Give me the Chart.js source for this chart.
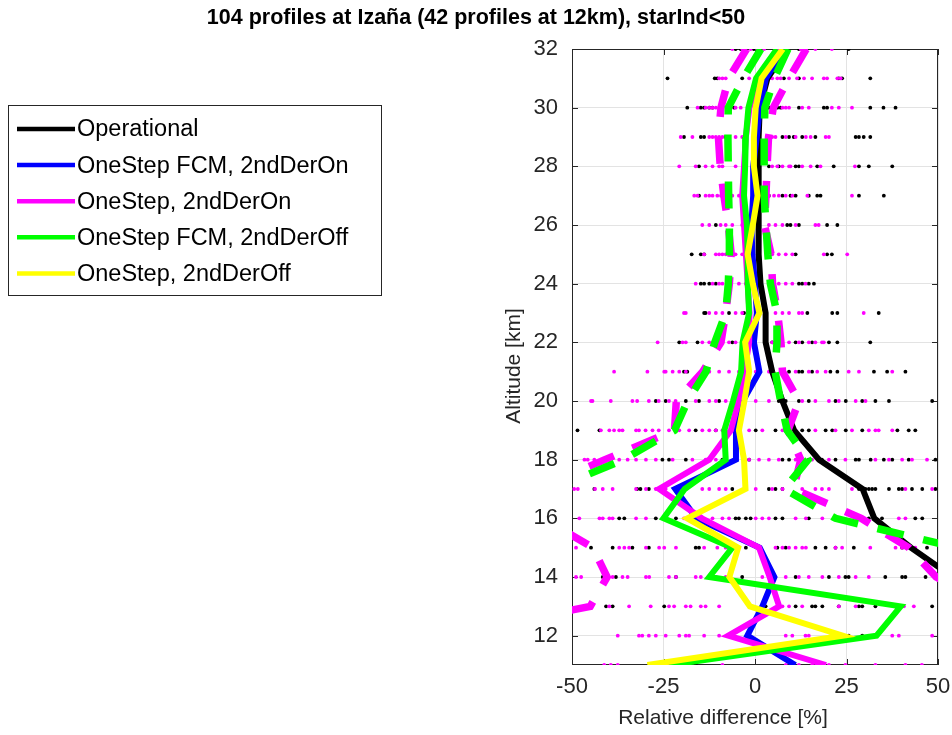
<!DOCTYPE html>
<html><head><meta charset="utf-8">
<script src="https://cdn.jsdelivr.net/npm/chart.js@4.4.1/dist/chart.umd.min.js"></script>
<style>html,body{margin:0;padding:0;background:#fff;}#wrap{width:952px;height:735px;position:relative;}</style>
</head><body><div id="wrap"><canvas id="c" width="952" height="735"></canvas></div>
<script>
// ---------- DATA ----------
const chartTitle = '104 profiles at Izaña (42 profiles at 12km), starInd<50';
const xAxisTitle = 'Relative difference [%]';
const yAxisTitle = 'Altitude [km]';
const xTicks = [-50, -25, 0, 25, 50];
const yTicks = [12, 14, 16, 18, 20, 22, 24, 26, 28, 30, 32];
const altitudes = [32,31,30,29,28,27,26,25,24,23,22,21,20,19,18,17,16,15,14,13,12,11];

const seriesNames = ['Operational','OneStep FCM, 2ndDerOn','OneStep, 2ndDerOn','OneStep FCM, 2ndDerOff','OneStep, 2ndDerOff'];
const operational = [8.8,3.4,1.3,1,1,1,1,1,1.5,2.9,2.9,4.7,7.5,10.7,17.5,29.4,32.6,42.6,54,null,null,null];
const fcm2ndDerOn = [8,3,1.3,0.5,-0.5,-0.5,-1,-0.7,0,0.5,-0.3,1.2,-3.3,-5.2,-5.2,-21.8,-16,1.3,5.3,2,-2.1,11];
const oneStep2ndDerOn = [7,1,-1.5,-2.5,-3,-3.5,-3,-2.5,-2,-1.5,-1.6,-2.9,-4.5,-6.6,-12.5,-26.2,-14.5,1.1,4,6.6,-7.3,19.4];
const fcm2ndDerOff = [6,0.3,-1.8,-2.5,-2.7,-3,-2.2,-2,-2,-1.6,-3.4,-3.8,-6,-8.4,-8,-19.2,-25,-6.2,-12.5,39.8,33.2,-23.4];
const oneStep2ndDerOff = [7.6,1.8,0.2,-0.3,-0.3,0.7,-0.6,-2,-0.6,1.2,-2.7,-1.6,-2.9,-4.4,-3,-2.6,-18.5,-4.6,-7,-1.4,24,-29.4];

// dashed spread lines (lower / upper)
const oneStepOnLow  = [-2.3,-7.2,-9.3,-10,-9.5,-8.5,-7.3,-6.5,-7,-8,-9.3,-14.3,-21.5,-22,-41,-60,-58,-44.3,-40.4,-45,-85,-90];
const oneStepOnHigh = [14,9.3,5,3.7,3.3,3,2.6,4.4,4.8,6.2,7.1,7.5,12,9,12.5,10.5,29,42,49.5,65,70,70];
const fcmOffLow  = [1.6,-3.2,-7.3,-7.4,-7.3,-7.2,-7,-7,-7.3,-8,-11,-13.4,-18.4,-22,-36,-55,-65,-70,-70,-70,-70,-70];
const fcmOffHigh = [9,5.3,2.7,2.5,2.5,2.5,3,3.5,4.2,6,6,5.5,7,8.8,14.5,8,22,55,75,80,80,80];

// individual profile values at each altitude (same order as altitudes)
const operationalDots = [
 [-5.3,-3.9,-2.5,-0.3,12,25.6],
 [-23.9,-11,-10.3,-3.5,3.8,7.9,12,22.9,23.8,31.5],
 [-18.5,-14.8,-13.9,-12.5,-11.6,-5.7,3.8,6.1,7,12,18.8,19.7,31.5,35.1,38.4],
 [-19.4,-14.8,-13.9,-8,3.8,7.5,9.3,10.6,12.9,16.5,27.5,28.4,29.7,31.5],
 [-15.3,3.8,6.5,11.1,12,17,21.5,28.4,31.1,37.5],
 [-15.3,3.8,7.5,9.7,11.1,14.7,17,17.9,28.4,35.2],
 [-10.7,8.8,9.7,12,19.7,22.5],
 [-17.3,-14.8,-13.9,11.1,19.7,21],
 [-14.8,-13.9,-12.5,-10.7,12,12.9,14.7,16.1],
 [-13.9,-13.5,-7.1,-3,14.3,21.1,22.5,33.8],
 [-20.7,-15.7,-6.2,4.7,11.1,12.9,15.6,20.2,22.5,31.5],
 [-19.4,-18.5,7.5,9.3,12,12.9,15.6,20.6,22.5,32.5,36.1,41.1],
 [-27.1,-24.4,-18.9,-15.3,-9.8,6.5,8.4,12,14.7,22,24.8,29.3,32.9,36.6,48.4],
 [-48.5,-42.5,-16.2,-10.7,0.2,5.6,12.9,14.7,19.3,21.1,24.8,29.3,38.9,42,43.8],
 [-39.8,-25.3,-23.5,-18.9,-12.5,-8.9,-1.6,7.5,9.3,14.7,18.3,22,27.5,28.4,31.6,35.2,37.5,42,49.3],
 [-43.9,-32.2,-31.3,-29,-19.8,-18.9,-6.2,3.8,5.6,7.5,28.4,30.2,31.1,32,32.9,36.6,39.3,40.2,42.9,45.7,49.3],
 [-37.1,-35.7,-27.1,-21.6,-5.3,-4.4,-2.5,-1.2,5.6,7.5,14.7,31.1,32.9,34.7,43.8,45.7],
 [-44.8,-38.9,-33.5,-29,-16.2,-15.3,-2.5,6.1,8.4,16.5,19.3,22,27,40.2,47],
 [-41.6,-38,-21.6,-3.5,11.1,20.2,24.7,25.6,35.6,40.2,41.1,46.6],
 [-40.7,-38.9,-24.8,2.9,11.1,15.6,16.5,18.4,22.9,28.4,29.3,32.9,48.4],
 [25.6,29.3],
 [-16.2]
];
const oneStepDots = [
 [-6.2,-3.5,-1.2,0.6,2.5,12.5,14,16.5,21],
 [-9.8,-8.9,-8,-1.6,4.7,6.1,7,9.3,11.5,13.4,15.6,18.8,19.7,22.5,23.4],
 [-15.7,-13.5,-12.5,-11.6,-10.7,-8.9,-7.1,-5.3,-3.9,5.2,7.5,8.4,9.3,12.9,14.7,21,22.9,26.5],
 [-20.3,-17.1,-12.5,-11.6,-10.7,-9.8,-8.9,-5.3,-3.5,4.7,5.6,8.4,11.1,13.9,15.2,19.3,20.2],
 [-20.7,-16.2,-13.5,-11.6,-9.8,-8.9,-5.3,4.7,6.1,7.5,9.3,9.7,12.9,15.2,17.9,27.3],
 [-16.6,-15.7,-13.5,-12.5,-11.6,-10.3,-9.3,-8,-6.2,-4.4,3.8,5.2,6.5,8.4,10.2,14.3,26.5],
 [-14.4,-12.5,-9.4,-8,-6.2,-3.5,3.8,5.6,7.5,11.1,16.5,17.4],
 [-13.9,-10.7,-9.8,-8.9,-8,-7.1,-5.3,-3.5,4.7,6.5,8.4,10.2,18.8,25.2],
 [-16.2,-11.6,-9.8,-8.9,-4.4,-2.5,6.5,8.4,10.2,13.8],
 [-19.4,-18.9,-12.5,-10.7,-8.9,-5.3,-3.5,5.6,7.5,9.3,12,12.9,29.7],
 [-26.6,-19.8,-18.9,-14.4,-12.5,-10.7,-8.9,-7.1,-5.3,-0.7,4.7,9.3,12,14.7,16.5,18.3,18.8],
 [-38.5,-29.4,-24.8,-24.4,-22.5,-20.7,-18.9,-12.5,-9.8,-7.1,-4.4,0.2,3.8,11.1,14.7,17,19.3,25.6,28.4,37.5],
 [-44.8,-44.4,-39.4,-33.5,-32.2,-29,-26.3,-23.5,-21.7,-16.2,-12.5,-10.7,-8,-5.3,0.2,3.8,7.5,12.9,16.5,20.2,22.9,27.5,30.2],
 [-42.1,-39.8,-38.5,-37.1,-36.2,-32.5,-31.7,-29.9,-28,-26.3,-23.5,-20.7,-18,-14.4,-12.5,-10.7,-8.9,-5.3,-1.6,2,7.5,11.1,16.5,22,26.5,31.1,32.9,33.8,37.5],
 [-46.6,-45.7,-43.9,-41.6,-37.1,-34.8,-32.5,-29.8,-27.1,-22.5,-17.1,-13.5,-10.7,-8,-5.3,-1.6,1.1,3.8,6.5,11.1,15.6,20.2,24.7,32.9,36.6,40.2,42.9,47],
 [-49.4,-48.4,-43.7,-41.6,-38.9,-32.5,-29.8,-27.1,-24.4,-21.6,-14.4,-12.5,-9.8,-8,-2.5,0.2,4.7,7.5,12.9,16.5,18.3,20.2,26.5,41.1,48.4],
 [-48,-42.5,-41.6,-39.8,-38.9,-32.5,-29.8,-19.4,-16.2,-11.6,-8.9,-7.1,0.2,2,3.8,11.1,13.9,18.4,29.3,39.3,41.1],
 [-48.9,-37.1,-35.7,-34.4,-29.8,-26.2,-24.8,-21.6,-13.9,-10.3,-8,5.6,7.5,9.3,11.1,12.9,13.9,22,23.8,31.5,38.4,40.2,43.8],
 [-48.9,-47.5,-38.9,-36.2,-34.8,-29.8,-28.9,-23.5,-21.6,-16.2,-14.8,-12.5,-10.7,-8,2,8.4,12,14.7,18.4,22.9,27.5,31.1],
 [-39.8,-34.4,-28.5,-23.5,-22.1,-18.9,-17.6,-14.8,-13.5,-9.8,7.5,9.3,12.9,22.9,27.5,39.3,40.7,43.4],
 [-37.5,-31.7,-30.8,-29,-27.1,-24.4,-20.7,-18.9,-18,-13.9,-9.8,8.4,10.2,13.8,14.7,21.1,37.5,39.3,48.4],
 [-41.2,-39.4,-37.5,-23.9,-8.9,8.4,12,15.6,20.2,24.7,32.9,41.1,45.6]
];

// ---------- BUILD ----------
const FONT = '"Liberation Sans", Arial, Helvetica, sans-serif';
const AXC = '#262626';
const toProfile = vals => altitudes.map((a, i) => ({x: vals[i], y: a}));
const toDots = rows => rows.flatMap((row, i) => row.map(v => ({x: v, y: altitudes[i]})));

function lineDs(label, vals, color, order, dashed) {
  return {
    type: 'line', label, data: toProfile(vals), borderColor: color, backgroundColor: color,
    borderWidth: dashed ? 7.5 : 6, borderDash: dashed ? [27, 20] : [], borderCapStyle: 'butt',
    borderJoinStyle: 'miter', pointRadius: 0, pointHoverRadius: 0, fill: false, tension: 0,
    spanGaps: false, order, isLegend: !dashed
  };
}
function dotDs(label, rows, color, order) {
  return { type: 'scatter', label, data: toDots(rows), backgroundColor: color, borderColor: color,
    borderWidth: 0, pointRadius: 1.9, pointHoverRadius: 1.9, showLine: false, order, isLegend: false };
}

const datasets = [
  lineDs(seriesNames[4], oneStep2ndDerOff, '#ffff00', 0, false),
  lineDs('fcmOffLow', fcmOffLow, '#00ff00', 1, true),
  lineDs('fcmOffHigh', fcmOffHigh, '#00ff00', 1, true),
  lineDs(seriesNames[3], fcm2ndDerOff, '#00ff00', 2, false),
  lineDs('onLow', oneStepOnLow, '#ff00ff', 3, true),
  lineDs('onHigh', oneStepOnHigh, '#ff00ff', 3, true),
  lineDs(seriesNames[2], oneStep2ndDerOn, '#ff00ff', 4, false),
  lineDs(seriesNames[1], fcm2ndDerOn, '#0000ff', 5, false),
  lineDs(seriesNames[0], operational, '#000000', 6, false),
  dotDs('oneStepDots', oneStepDots, '#ff00ff', 7),
  dotDs('operationalDots', operationalDots, '#000000', 8)
];

const framePlugin = {
  id: 'frame',
  beforeDatasetsDraw(chart) {
    const {ctx, chartArea: a, scales} = chart;
    ctx.save();
    ctx.strokeStyle = AXC; ctx.lineWidth = 1;
    ctx.strokeRect(Math.round(a.left) + 0.5, Math.round(a.top) + 0.5, Math.round(a.right - a.left) - 1, Math.round(a.bottom - a.top) - 1);
    ctx.beginPath();
    const tl = 6;
    xTicks.forEach(v => {
      const px = Math.round(scales.x.getPixelForValue(v)) + 0.5;
      ctx.moveTo(px, a.bottom); ctx.lineTo(px, a.bottom - tl);
      ctx.moveTo(px, a.top); ctx.lineTo(px, a.top + tl);
    });
    yTicks.forEach(v => {
      const py = Math.round(scales.y.getPixelForValue(v)) + 0.5;
      ctx.moveTo(a.left, py); ctx.lineTo(a.left + tl, py);
      ctx.moveTo(a.right, py); ctx.lineTo(a.right - tl, py);
    });
    ctx.stroke();
    ctx.restore();
  },
  afterDraw(chart) {
    const {ctx} = chart;
    ctx.save();
    // title
    ctx.fillStyle = '#000';
    ctx.font = 'bold 21.5px ' + FONT;
    ctx.textAlign = 'center'; ctx.textBaseline = 'middle';
    ctx.fillText(chartTitle, 476, 18);
    // axis titles
    ctx.fillStyle = AXC;
    ctx.font = '21px ' + FONT;
    ctx.fillText(xAxisTitle, 723, 718);
    ctx.save();
    ctx.translate(514, 366);
    ctx.rotate(-Math.PI / 2);
    ctx.fillText(yAxisTitle, 0, 0);
    ctx.restore();
    // legend
    ctx.fillStyle = '#fff';
    ctx.fillRect(8, 105, 374, 190);
    ctx.strokeStyle = AXC; ctx.lineWidth = 1;
    ctx.strokeRect(8.5, 105.5, 373, 190);
    const items = chart.data.datasets.filter(d => d.isLegend)
      .sort((p, q) => seriesNames.indexOf(p.label) - seriesNames.indexOf(q.label));
    ctx.font = '23.5px ' + FONT;
    ctx.textAlign = 'left'; ctx.textBaseline = 'middle';
    items.forEach((d, i) => {
      const y = 129 + i * 36.1;
      ctx.strokeStyle = d.borderColor; ctx.lineWidth = 4.5; ctx.lineCap = 'butt';
      ctx.beginPath(); ctx.moveTo(17, y); ctx.lineTo(75, y); ctx.stroke();
      ctx.fillStyle = '#000';
      ctx.fillText(d.label, 77, y + 1);
    });
    ctx.restore();
  }
};

new Chart(document.getElementById('c'), {
  data: { datasets },
  plugins: [framePlugin],
  options: {
    responsive: false, animation: false, devicePixelRatio: 1,
    layout: { padding: { left: 500, right: 14, top: 49, bottom: 0 }, autoPadding: false },
    plugins: { legend: { display: false }, title: { display: false }, tooltip: { enabled: false } },
    events: [],
    scales: {
      x: {
        type: 'linear', min: -50, max: 50,
        afterBuildTicks: s => { s.ticks = xTicks.map(v => ({value: v})); },
        afterFit: s => { s.height = 70; s.paddingLeft = 0; s.paddingRight = 0; },
        grid: { color: '#e3e3e3', lineWidth: 1, drawTicks: false },
        border: { display: false },
        ticks: { color: AXC, font: { size: 22, family: FONT }, padding: 9, maxRotation: 0, autoSkip: false, callback: v => String(v) },
        title: { display: false }
      },
      y: {
        type: 'linear', min: 11, max: 32,
        afterBuildTicks: s => { s.ticks = yTicks.map(v => ({value: v})); },
        afterFit: s => { s.width = 72; s.paddingTop = 0; s.paddingBottom = 0; },
        grid: { color: '#e3e3e3', lineWidth: 1, drawTicks: false },
        border: { display: false },
        ticks: { color: AXC, font: { size: 22, family: FONT }, padding: 14, autoSkip: false, callback: v => String(v) },
        title: { display: false }
      }
    }
  }
});
</script></body></html>
